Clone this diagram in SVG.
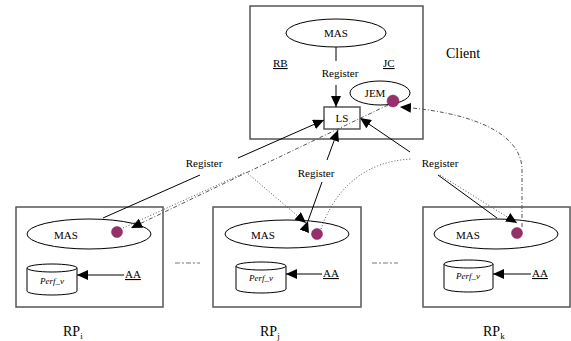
<svg xmlns="http://www.w3.org/2000/svg" width="571" height="341" viewBox="0 0 571 341" font-family="'Liberation Serif', 'DejaVu Serif', serif">
  <style>
    text { font-family: 'Liberation Serif', 'DejaVu Serif', serif; fill: #000; }
    .t11 { font-size: 11px; }
    .t14 { font-size: 14px; }
    .perf { font-size: 9px; font-style: italic; }
    .ul { text-decoration: underline; }
    .box { fill: #fff; stroke: #555; stroke-width: 1.5; }
    .shape { fill: #fff; stroke: #000; stroke-width: 1; }
    .dot { fill: #96306a; stroke: #7a2254; stroke-width: 0.5; }
    .solid { fill: none; stroke: #000; stroke-width: 1; }
    .dashdot { fill: none; stroke: #555; stroke-width: 1; stroke-dasharray: 4 2 1 2; }
    .dotted { fill: none; stroke: #555; stroke-width: 1; stroke-dasharray: 1 2; }
    .sep { fill: none; stroke: #777; stroke-width: 1; stroke-dasharray: 5 2 2 2; }
  </style>
  <defs>
    <marker id="arrow" markerUnits="userSpaceOnUse" markerWidth="12" markerHeight="10" refX="11" refY="5" orient="auto">
      <path d="M0,0 L11,5 L0,10 z" fill="#000"/>
    </marker>
  </defs>

  <rect width="571" height="341" fill="#fff"/>

  <!-- client host -->
  <g id="client">
    <rect class="box" x="250" y="6" width="173" height="133"/>
    <text class="t14" x="446" y="58">Client</text>
    <text class="t11 ul" x="273" y="67">RB</text>
    <text class="t11 ul" x="383" y="67">JC</text>
  </g>
  <g id="client-mas">
    <ellipse class="shape" cx="336" cy="33" rx="50" ry="14"/>
    <text class="t11" x="336" y="37" text-anchor="middle">MAS</text>
  </g>
  <g id="jem">
    <ellipse class="shape" cx="380" cy="93" rx="30" ry="12"/>
    <text class="t11" x="375" y="97" text-anchor="middle">JEM</text>
    <circle class="dot" cx="393" cy="101" r="6"/>
  </g>
  <g id="ls">
    <rect class="box" x="324" y="107" width="36" height="22"/>
    <text class="t11" x="342" y="122" text-anchor="middle">LS</text>
  </g>

  <!-- resource providers -->
  <g id="rp-i">
    <rect class="box" x="16" y="207" width="147" height="100"/>
    <ellipse class="shape" cx="89" cy="234" rx="62" ry="15"/>
    <text class="t11" x="66" y="239" text-anchor="middle">MAS</text>
    <circle class="dot" cx="117" cy="232" r="5.5"/>
    <path class="shape" d="M27,268 L27,291 A25,4 0 0 0 77,291 L77,268"/>
    <ellipse class="shape" cx="52" cy="268" rx="25" ry="4"/>
    <text class="perf" x="52" y="284" text-anchor="middle">Perf_v</text>
    <text class="t11 ul" x="125" y="278">AA</text>
    <text class="t14" x="63" y="336">RP<tspan font-size="9" dy="3">i</tspan></text>
  </g>
  <g id="rp-j">
    <rect class="box" x="213" y="207" width="148" height="100"/>
    <ellipse class="shape" cx="287" cy="234" rx="62" ry="14"/>
    <text class="t11" x="263" y="239" text-anchor="middle">MAS</text>
    <circle class="dot" cx="317" cy="234" r="5.5"/>
    <path class="shape" d="M236,266 L236,289 A25,4 0 0 0 286,289 L286,266"/>
    <ellipse class="shape" cx="261" cy="266" rx="25" ry="4"/>
    <text class="perf" x="261" y="281" text-anchor="middle">Perf_v</text>
    <text class="t11 ul" x="323" y="277">AA</text>
    <text class="t14" x="260" y="336">RP<tspan font-size="9" dy="3">j</tspan></text>
  </g>
  <g id="rp-k">
    <rect class="box" x="423" y="207" width="147" height="100"/>
    <ellipse class="shape" cx="496" cy="234" rx="62" ry="15"/>
    <text class="t11" x="468" y="239" text-anchor="middle">MAS</text>
    <circle class="dot" cx="517" cy="233" r="5.5"/>
    <path class="shape" d="M444,264 L444,288 A24.5,4 0 0 0 493,288 L493,264"/>
    <ellipse class="shape" cx="468.5" cy="264" rx="24.5" ry="4"/>
    <text class="perf" x="468" y="279" text-anchor="middle">Perf_v</text>
    <text class="t11 ul" x="532" y="277">AA</text>
    <text class="t14" x="483" y="336">RP<tspan font-size="9" dy="3">k</tspan></text>
  </g>

  <!-- separators between providers -->
  <g id="separators">
    <line class="sep" x1="175" y1="263" x2="200" y2="263"/>
    <line class="sep" x1="372" y1="263" x2="398" y2="263"/>
  </g>

  <!-- connectors -->
  <g id="connectors">
    <!-- registrations -->
    <line class="solid" x1="336" y1="47" x2="336" y2="61"/>
    <text class="t11" x="340" y="77" text-anchor="middle">Register</text>
    <line class="solid" x1="336" y1="85" x2="336" y2="107" marker-end="url(#arrow)"/>

    <line class="solid" x1="103" y1="218" x2="200" y2="175"/>
    <text class="t11" x="204" y="167" text-anchor="middle">Register</text>
    <line class="solid" x1="238" y1="158" x2="324" y2="120" marker-end="url(#arrow)"/>

    <line class="solid" x1="308" y1="221" x2="322" y2="182" marker-start="url(#arrow)"/>
    <text class="t11" x="316" y="177" text-anchor="middle">Register</text>
    <line class="solid" x1="327" y1="160" x2="338" y2="130" marker-end="url(#arrow)"/>

    <line class="solid" x1="497" y1="218" x2="438" y2="175"/>
    <text class="t11" x="440" y="167" text-anchor="middle">Register</text>
    <line class="solid" x1="410" y1="152" x2="360" y2="118" marker-end="url(#arrow)"/>

    <!-- AA feeds -->
    <line class="solid" x1="124" y1="275" x2="77" y2="275" marker-end="url(#arrow)"/>
    <line class="solid" x1="322" y1="274" x2="286" y2="274" marker-end="url(#arrow)"/>
    <line class="solid" x1="531" y1="274" x2="493" y2="274" marker-end="url(#arrow)"/>

    <!-- agent itinerary -->
    <path class="dashdot" d="M388,105 L131,228" marker-end="url(#arrow)"/>
    <path class="dotted" d="M123,228 L246,172 L306,223" marker-end="url(#arrow)"/>
    <path class="dotted" d="M321,229 C334,192 362,161 412,159"/>
    <path class="dotted" d="M440,175 L517,223" marker-end="url(#arrow)"/>
    <path class="dashdot" d="M522,227 L522,168 C520,132 470,112 400,107" marker-end="url(#arrow)"/>
  </g>
</svg>
